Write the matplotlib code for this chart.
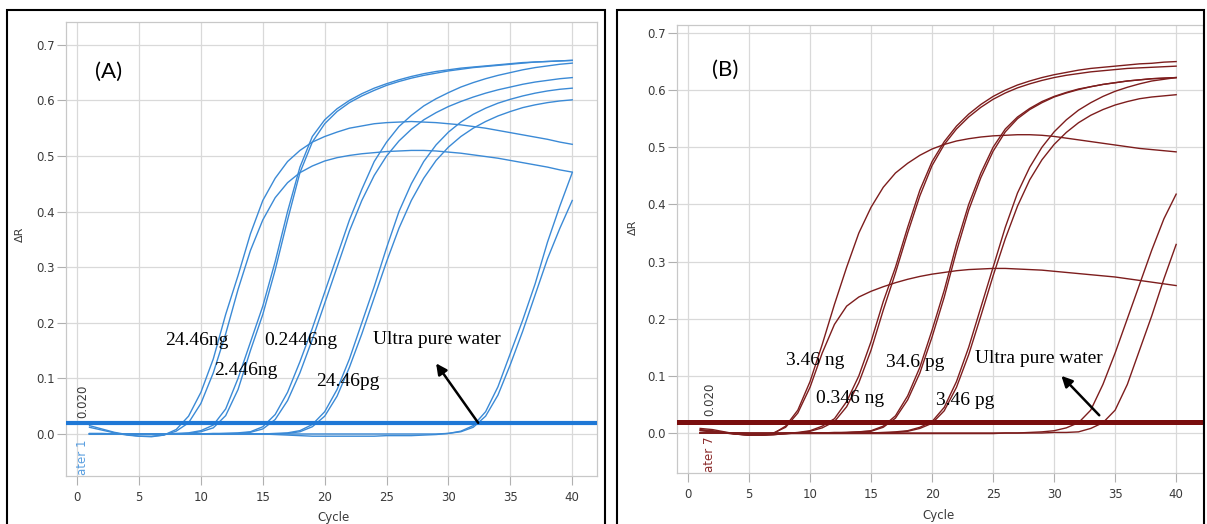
import numpy as np
import matplotlib
matplotlib.use("Agg")
import matplotlib.pyplot as plt
from matplotlib.patches import Rectangle

cycles = np.arange(1, 41)

# ---- panel A: dilution series (ng / pg of template), two replicates each ----
a_24ng_1 = [0.015, 0.009, 0.003, -0.001, -0.004, -0.005, -0.002, 0.008, 0.032, 0.075,
            0.135, 0.215, 0.285, 0.36, 0.42, 0.46, 0.49, 0.51, 0.525, 0.535,
            0.543, 0.55, 0.554, 0.558, 0.56, 0.561, 0.562, 0.561, 0.56, 0.558,
            0.556, 0.553, 0.55, 0.546, 0.542, 0.538, 0.534, 0.53, 0.525, 0.521]
a_24ng_2 = [0.012, 0.007, 0.002, -0.002, -0.004, -0.004, -0.002, 0.005, 0.02, 0.055,
            0.11, 0.18, 0.26, 0.33, 0.385, 0.425, 0.452, 0.47, 0.482, 0.491,
            0.497, 0.501, 0.504, 0.506, 0.508, 0.509, 0.51, 0.51, 0.509, 0.507,
            0.505, 0.502, 0.499, 0.496, 0.492, 0.488, 0.484, 0.48, 0.475, 0.471]
a_2ng_1 = [0.0, 0.0, 0.0, 0.0, 0.0, 0.0, 0.0, 0.001, 0.002, 0.006,
           0.016, 0.045, 0.1, 0.165, 0.23, 0.31, 0.4, 0.48, 0.535, 0.565,
           0.585, 0.6, 0.612, 0.622, 0.63, 0.637, 0.643, 0.648, 0.652, 0.655,
           0.658, 0.66, 0.662, 0.664, 0.666, 0.668, 0.669, 0.67, 0.671, 0.672]
a_2ng_2 = [0.001, 0.001, 0.0, 0.0, 0.0, 0.0, 0.0, 0.0, 0.001, 0.004,
           0.011, 0.033, 0.08, 0.15, 0.215, 0.295, 0.385, 0.47, 0.525, 0.558,
           0.58, 0.596, 0.608, 0.618, 0.627, 0.634, 0.64, 0.645, 0.649, 0.653,
           0.656, 0.659, 0.661, 0.663, 0.665, 0.667, 0.669, 0.67, 0.671, 0.672]
a_02ng_1 = [0.0, 0.0, 0.0, 0.0, 0.0, 0.0, 0.0, 0.0, 0.0, 0.0,
            0.001, 0.001, 0.002, 0.004, 0.013, 0.035, 0.075, 0.13, 0.19, 0.255,
            0.32, 0.385, 0.44, 0.49, 0.525, 0.553, 0.573, 0.59, 0.603, 0.614,
            0.624, 0.632, 0.639, 0.645, 0.65, 0.655, 0.659, 0.662, 0.665, 0.667]
a_02ng_2 = [0.0, 0.0, 0.0, 0.0, 0.0, 0.0, 0.0, 0.0, 0.0, 0.0,
            0.0, 0.001, 0.001, 0.003, 0.009, 0.026, 0.06, 0.11, 0.17, 0.235,
            0.3, 0.365, 0.42, 0.465, 0.5, 0.527, 0.548, 0.565, 0.578, 0.589,
            0.598, 0.606, 0.613, 0.619, 0.624, 0.629, 0.633, 0.636, 0.639, 0.641]
a_24pg_1 = [0.0, 0.0, 0.0, 0.0, 0.0, 0.0, 0.0, 0.0, 0.0, 0.0,
            0.0, 0.0, 0.0, 0.0, 0.0, 0.001, 0.002, 0.006, 0.017, 0.04,
            0.08, 0.135, 0.2, 0.265, 0.335, 0.4, 0.45, 0.49, 0.52, 0.543,
            0.561, 0.575, 0.586, 0.595, 0.602, 0.608, 0.613, 0.617, 0.62, 0.622]
a_24pg_2 = [0.0, 0.0, 0.0, 0.0, 0.0, 0.0, 0.0, 0.0, 0.0, 0.0,
            0.0, 0.0, 0.0, 0.0, 0.0, 0.0, 0.001, 0.004, 0.013, 0.032,
            0.068, 0.12, 0.18, 0.245, 0.31, 0.37, 0.42, 0.46, 0.492, 0.516,
            0.535, 0.55, 0.562, 0.572, 0.58, 0.587, 0.592, 0.596, 0.599, 0.601]
a_water_1 = [0.0, 0.0, 0.0, 0.0, 0.0, 0.0, 0.0, 0.0, 0.0, 0.0,
             0.0, 0.0, 0.0, 0.0, 0.0, -0.001, -0.002, -0.003, -0.004, -0.004,
             -0.004, -0.004, -0.004, -0.004, -0.003, -0.003, -0.003, -0.002, -0.001, 0.001,
             0.005, 0.015, 0.04, 0.085, 0.145, 0.205, 0.27, 0.345, 0.41, 0.47]
a_water_2 = [0.0, 0.0, 0.0, 0.0, 0.0, 0.0, 0.0, 0.0, 0.0, 0.0,
             0.0, 0.0, 0.0, 0.0, 0.0, 0.0, 0.0, 0.0, 0.0, 0.0,
             0.0, 0.0, 0.0, 0.0, 0.0, 0.0, 0.0, 0.0, 0.0, 0.001,
             0.004, 0.012, 0.032, 0.07, 0.125, 0.185, 0.25, 0.315, 0.37, 0.42]

# ---- panel B ----
b_3ng_1 = [0.008, 0.006, 0.002, -0.002, -0.004, -0.004, -0.001, 0.012, 0.04, 0.09,
           0.155, 0.225, 0.29, 0.35, 0.395, 0.43, 0.455, 0.472, 0.486, 0.497,
           0.505, 0.511, 0.515, 0.518, 0.52, 0.521, 0.522, 0.522, 0.521, 0.519,
           0.516, 0.513, 0.51, 0.507, 0.504, 0.501, 0.498, 0.496, 0.494, 0.492]
b_3ng_2 = [0.006, 0.004, 0.001, -0.002, -0.003, -0.003, 0.0, 0.01, 0.035, 0.08,
           0.14, 0.19, 0.222, 0.238, 0.248, 0.256, 0.263, 0.269, 0.274, 0.278,
           0.281, 0.284, 0.286, 0.287, 0.288, 0.288, 0.287, 0.286, 0.285, 0.283,
           0.281, 0.279, 0.277, 0.275, 0.273, 0.27, 0.267, 0.264, 0.261, 0.258]
b_03ng_1 = [0.005, 0.003, 0.0, -0.002, -0.004, -0.004, -0.003, -0.001, 0.001, 0.004,
            0.012, 0.025, 0.055, 0.1, 0.16, 0.23, 0.29, 0.36, 0.425, 0.475,
            0.51, 0.537, 0.558, 0.575, 0.589, 0.6, 0.609, 0.616, 0.622, 0.627,
            0.631, 0.635, 0.638, 0.64, 0.642, 0.644, 0.646, 0.647, 0.649, 0.65]
b_03ng_2 = [0.004, 0.002, 0.0, -0.002, -0.003, -0.004, -0.003, -0.001, 0.0, 0.003,
            0.009, 0.02, 0.046, 0.088, 0.145, 0.215, 0.28, 0.35, 0.415, 0.468,
            0.505, 0.532, 0.553, 0.57, 0.584, 0.595, 0.604, 0.611, 0.617, 0.622,
            0.626, 0.629, 0.632, 0.634, 0.636, 0.638, 0.639, 0.64, 0.641, 0.642]
b_34pg_1 = [0.0, 0.0, 0.0, -0.001, -0.002, -0.002, -0.002, -0.001, 0.0, 0.0,
            0.0, 0.001, 0.001, 0.002, 0.004, 0.012, 0.03, 0.065, 0.115, 0.18,
            0.25, 0.33, 0.4, 0.455, 0.5, 0.532, 0.553, 0.568, 0.58, 0.589,
            0.596, 0.602, 0.606, 0.61, 0.613, 0.616, 0.618, 0.62, 0.621, 0.622]
b_34pg_2 = [0.0, 0.0, 0.0, -0.001, -0.002, -0.002, -0.002, -0.001, 0.0, 0.0,
            0.0, 0.0, 0.001, 0.002, 0.003, 0.01, 0.026, 0.058, 0.105, 0.168,
            0.238, 0.318, 0.39, 0.447, 0.493, 0.527, 0.55, 0.566, 0.578, 0.588,
            0.595, 0.601, 0.606, 0.61, 0.613, 0.616, 0.618, 0.62, 0.621, 0.622]
b_3pg_1 = [0.0, 0.0, 0.0, 0.0, -0.001, -0.001, -0.001, 0.0, 0.0, 0.0,
           0.0, 0.0, 0.0, 0.0, 0.0, 0.001, 0.002, 0.004, 0.01, 0.02,
           0.045, 0.09, 0.15, 0.22, 0.29, 0.36, 0.42, 0.465, 0.5, 0.527,
           0.548, 0.565, 0.578, 0.589, 0.598, 0.605, 0.611, 0.616, 0.619, 0.622]
b_3pg_2 = [0.0, 0.0, 0.0, 0.0, -0.001, -0.001, -0.001, 0.0, 0.0, 0.0,
           0.0, 0.0, 0.0, 0.0, 0.0, 0.0, 0.001, 0.003, 0.008, 0.017,
           0.039, 0.08, 0.137, 0.205, 0.275, 0.34, 0.397, 0.443, 0.478, 0.505,
           0.526, 0.543, 0.556, 0.566, 0.574, 0.58, 0.585, 0.588, 0.59, 0.592]
b_water_1 = [0.0, 0.0, 0.0, 0.0, 0.0, 0.0, 0.0, -0.001, -0.001, -0.001,
             -0.001, -0.001, -0.001, -0.001, -0.001, -0.001, -0.001, -0.001, -0.001, -0.001,
             -0.001, -0.001, -0.001, -0.001, -0.001, 0.0, 0.0, 0.001, 0.002, 0.004,
             0.009, 0.018, 0.04, 0.085, 0.14, 0.2, 0.26, 0.32, 0.375, 0.418]
b_water_2 = [0.0, 0.0, 0.0, 0.0, 0.0, 0.0, 0.0, 0.0, 0.0, 0.0,
             0.0, 0.0, 0.0, 0.0, 0.0, 0.0, 0.0, 0.0, 0.0, 0.0,
             0.0, 0.0, 0.0, 0.0, 0.0, 0.0, 0.0, 0.0, 0.0, 0.001,
             0.001, 0.002, 0.008, 0.018, 0.04, 0.085, 0.145, 0.205, 0.27, 0.33]

threshold = 0.020

labels_a = ["24.46ng", "2.446ng", "0.2446ng", "24.46pg", "Ultra pure water"]
label_pos_a = [(7.1, 0.168), (11.1, 0.115), (15.1, 0.168), (19.3, 0.094), (23.9, 0.170)]
labels_b = ["3.46 ng", "0.346 ng", "34.6 pg", "3.46 pg", "Ultra pure water"]
label_pos_b = [(8.0, 0.127), (10.5, 0.060), (16.2, 0.124), (20.3, 0.057), (23.5, 0.130)]

W, H = 1207, 524
fig = plt.figure(figsize=(W / 100, H / 100), dpi=100)


def px_axes(l, t, r, b):
    return fig.add_axes([l / W, 1 - b / H, (r - l) / W, (b - t) / H])


def style(ax, xlim, ylim):
    ax.set_xlim(*xlim)
    ax.set_ylim(*ylim)
    ax.set_xticks(np.arange(0, 41, 5))
    ax.set_yticks(np.round(np.arange(0, 0.71, 0.1), 1))
    ax.yaxis.set_major_formatter(matplotlib.ticker.FormatStrFormatter("%.1f"))
    ax.grid(True, color="#d9d9d9", lw=0.9)
    ax.set_axisbelow(True)
    for s in ax.spines.values():
        s.set_color("#c8c8c8")
        s.set_linewidth(0.9)
    ax.tick_params(axis="both", direction="out", length=6.5, width=0.8,
                   color="#b0b0b0", labelcolor="#3a3a3a", labelsize=8.5)
    ax.tick_params(axis="x", pad=4.5)
    ax.tick_params(axis="y", pad=1.5)
    ax.set_xlabel("Cycle", fontsize=8.5, color="#3a3a3a")
    ax.set_ylabel("ΔR", fontsize=8, color="#3a3a3a")


serif = "Liberation Serif"

# panel A
axA = px_axes(66, 22, 597, 476)
style(axA, (-0.9, 42.0), (-0.0756, 0.741))
blue = "#3b8ad6"
for y in [a_24ng_1, a_24ng_2, a_2ng_1, a_2ng_2, a_02ng_1, a_02ng_2,
          a_24pg_1, a_24pg_2, a_water_1, a_water_2]:
    axA.plot(cycles, y, color=blue, lw=1.0)
axA.axhline(threshold, color="#1f78d6", lw=3.0, zorder=3)
axA.text(0.45, -0.074, "ater 1", rotation=90, ha="center", va="bottom",
         color="#5a9fe0", fontsize=8.5)
axA.text(0.45, 0.028, "0.020", rotation=90, ha="center", va="bottom",
         color="#3a3a3a", fontsize=8.5)
axA.text(1.45, 0.651, "(A)", fontsize=16, family="Lato", va="center", ha="left")
for t, (x, y) in zip(labels_a, label_pos_a):
    axA.text(x, y, t, family=serif, fontsize=14, va="center", ha="left")
axA.annotate("", xy=(29.0, 0.127), xytext=(32.4, 0.020),
             arrowprops=dict(arrowstyle="-|>", color="black", lw=1.8,
                             mutation_scale=16, shrinkA=0, shrinkB=0))
axA.xaxis.set_label_coords(0.503, -0.077)
axA.yaxis.set_label_coords(-0.077, 0.533)

# panel B
axB = px_axes(677, 25, 1203, 473)
style(axB, (-0.9, 42.2), (-0.07, 0.714))
red = "#7d1d1d"
for y in [b_3ng_1, b_3ng_2, b_03ng_1, b_03ng_2, b_34pg_1, b_34pg_2,
          b_3pg_1, b_3pg_2, b_water_1, b_water_2]:
    axB.plot(cycles, y, color=red, lw=1.0)
axB.axhline(threshold, color="#7a0e0e", lw=3.6, zorder=3)
axB.text(1.8, -0.068, "ater 7", rotation=90, ha="center", va="bottom",
         color="#8a2a2a", fontsize=8.5)
axB.text(1.8, 0.030, "0.020", rotation=90, ha="center", va="bottom",
         color="#3a3a3a", fontsize=8.5)
axB.text(1.97, 0.635, "(B)", fontsize=16, family="Lato", va="center", ha="left")
for t, (x, y) in zip(labels_b, label_pos_b):
    axB.text(x, y, t, family=serif, fontsize=14, va="center", ha="left")
axB.annotate("", xy=(30.6, 0.100), xytext=(33.7, 0.031),
             arrowprops=dict(arrowstyle="-|>", color="black", lw=1.8,
                             mutation_scale=16, shrinkA=0, shrinkB=0))
axB.xaxis.set_label_coords(0.498, -0.08)
axB.yaxis.set_label_coords(-0.074, 0.549)

# black frames around each panel
for x0, x1 in [(7, 605), (617, 1204)]:
    fig.add_artist(Rectangle((x0 / W, -0.05), (x1 - x0) / W, 1 - 10 / H + 0.05,
                             transform=fig.transFigure, fill=False,
                             ec="black", lw=1.5, clip_on=False))

fig.savefig("out.png", dpi=100)
